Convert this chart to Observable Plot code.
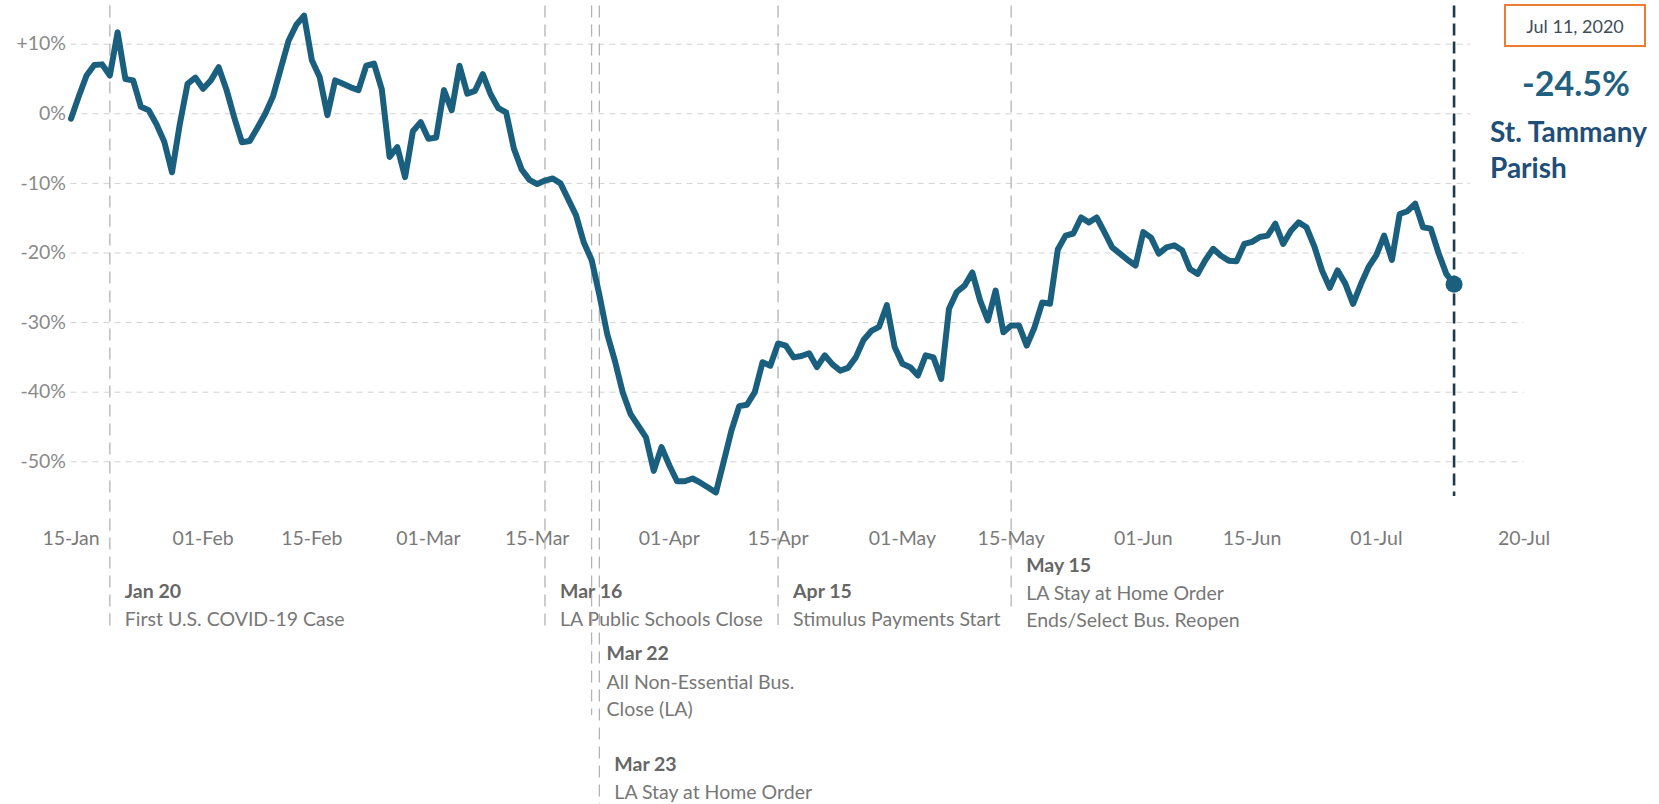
<!DOCTYPE html>
<html><head><meta charset="utf-8">
<script src="https://cdn.jsdelivr.net/npm/d3@7"></script>
<script src="https://cdn.jsdelivr.net/npm/@observablehq/plot@0.6"></script>
<style>
html,body{margin:0;padding:0;background:#fff;}
#wrap{position:relative;width:1659px;height:804px;font-family:Lato, "Noto Sans", sans-serif;overflow:hidden;}
#panel{position:absolute;left:1470px;top:0;width:189px;height:238px;background:#fff;}
#datebox{position:absolute;left:34px;top:4px;width:142px;height:43px;box-sizing:border-box;border:2px solid #ED7D31;display:flex;align-items:center;justify-content:center;font-size:18px;color:#3f4d5a;}
#val{position:absolute;left:28px;top:62px;width:156px;text-align:center;font-size:34px;line-height:42px;font-weight:bold;color:#21607e;}
#name{position:absolute;left:20px;top:113px;font-size:28px;line-height:36px;font-weight:bold;color:#1f4e79;}
</style></head><body>
<div id="wrap"><div id="chart"></div>
<div id="panel"><div id="datebox"></div><div id="val"></div><div id="name"></div></div>
</div>
<script>
// ---- data ----
const startDate = "2020-01-15";   // first daily value
const values = [
-0.7, 2.5, 5.5, 7.0, 7.1, 5.5, 11.7, 5.0, 4.8, 1.0,
0.5, -1.5, -4.0, -8.4, -1.5, 4.3, 5.2, 3.6, 4.8, 6.7,
3.5, -0.5, -4.1, -3.9, -2.0, 0.0, 2.5, 6.5, 10.5, 12.8,
14.1, 7.7, 5.3, -0.2, 4.8, 4.3, 3.8, 3.4, 6.9, 7.2,
3.5, -6.2, -4.8, -9.1, -2.5, -1.2, -3.6, -3.4, 3.4, 0.5,
6.9, 2.9, 3.3, 5.7, 2.8, 0.8, 0.2, -5.0, -8.0, -9.5,
-10.1, -9.6, -9.3, -10.0, -12.3, -14.6, -18.5, -21.0, -26.0, -31.6,
-35.5, -40.0, -43.1, -44.8, -46.5, -51.3, -47.9, -50.5, -52.8, -52.8,
-52.4, -53.0, -53.7, -54.4, -50.0, -45.5, -42.0, -41.8, -40.0, -35.7,
-36.2, -33.0, -33.3, -35.0, -34.8, -34.4, -36.4, -34.7, -36.0, -36.9,
-36.5, -35.0, -32.5, -31.2, -30.6, -27.5, -33.5, -35.9, -36.4, -37.6,
-34.7, -35.0, -38.1, -28.0, -25.6, -24.7, -22.8, -26.8, -29.7, -25.4,
-31.4, -30.4, -30.4, -33.3, -30.7, -27.1, -27.3, -19.5, -17.5, -17.2,
-14.9, -15.6, -14.9, -17.0, -19.2, -20.1, -21.0, -21.8, -17.0, -17.8,
-20.1, -19.2, -18.9, -19.6, -22.3, -23.0, -21.0, -19.4, -20.4, -21.1,
-21.2, -18.7, -18.4, -17.7, -17.5, -15.8, -18.7, -16.8, -15.6, -16.3,
-19.0, -22.5, -25.0, -22.5, -24.4, -27.3, -24.5, -22.0, -20.3, -17.5,
-21.0, -14.4, -14.0, -12.9, -16.3, -16.5, -20.0, -23.0, -24.5
];
const eventDates  = ["2020-01-20","2020-03-16","2020-03-22","2020-03-23","2020-04-15","2020-05-15"];
const eventLabels = ["Jan 20","Mar 16","Mar 22","Mar 23","Apr 15","May 15"];
const eventNotes  = ["First U.S. COVID-19 Case","LA Public Schools Close","All Non-Essential Bus.\nClose (LA)","LA Stay at Home Order","Stimulus Payments Start","LA Stay at Home Order\nEnds/Select Bus. Reopen"];
const xTickDates  = ["2020-01-15","2020-02-01","2020-02-15","2020-03-01","2020-03-15","2020-04-01","2020-04-15","2020-05-01","2020-05-15","2020-06-01","2020-06-15","2020-07-01","2020-07-20"];
const yTicks      = [-50,-40,-30,-20,-10,0,10];
const xDomain     = ["2020-01-15","2020-07-20"];
const yDomain     = [-55, 15.5];
const placeName   = "St. Tammany Parish";

// ---- layout (styling only) ----
const labelDy = [95, 95, 157, 268, 95, 69];       // bold date label offset below frame
const noteDy  = [121, 121, 197.5, 294, 121, 108]; // note block center offset below frame
const ruleExt = [131, 131, 219, 310, 129, 114];   // how far each event rule runs below frame

const parse = s => new Date(s + "T00:00:00Z");
const series = values.map((v, i) => ({date: d3.utcDay.offset(parse(startDate), i), value: v}));
const last = series[series.length - 1];
const events = eventDates.map((d, i) => ({date: parse(d), label: eventLabels[i], note: eventNotes[i]}));
const lineColor = "#1b5f7f";

const marks = [
  Plot.gridY(yTicks, {stroke: "#d2d2d2", strokeOpacity: 1, strokeDasharray: "6,5"}),
  Plot.axisY(yTicks, {tickSize: 0, tickPadding: 5, fontSize: 19.5, fill: "#8a8a8a", label: null,
    tickFormat: v => v > 0 ? `+${v}%` : `${v}%`}),
  Plot.axisX(xTickDates.map(parse), {tickSize: 0, tickPadding: 35, fontSize: 19.5, fill: "#7a7a7a", label: null,
    tickFormat: d3.utcFormat("%d-%b")})
];
events.forEach((e, i) => {
  marks.push(Plot.ruleX([e], {x: "date", stroke: "#b3b3b3", strokeWidth: 1.3, strokeDasharray: "12,7", insetBottom: -ruleExt[i]}));
  marks.push(Plot.text([e], {x: "date", text: "label", frameAnchor: "bottom", textAnchor: "start", lineAnchor: "middle",
    dx: 15, dy: labelDy[i], fontWeight: "bold", fontSize: 19.5, fill: "#666"}));
  marks.push(Plot.text([e], {x: "date", text: "note", frameAnchor: "bottom", textAnchor: "start", lineAnchor: "middle",
    dx: 15, dy: noteDy[i], fontSize: 19.5, lineHeight: 1.4, fill: "#777"}));
});
marks.push(Plot.ruleX([last], {x: "date", stroke: "#1c3b4e", strokeWidth: 2.6, strokeDasharray: "12,6"}));
marks.push(Plot.line(series, {x: "date", y: "value", stroke: lineColor, strokeWidth: 6, strokeLinejoin: "round", strokeLinecap: "round"}));
marks.push(Plot.dot([last], {x: "date", y: "value", r: 8.5, fill: lineColor, stroke: "none"}));

const chart = Plot.plot({
  width: 1659, height: 804,
  marginTop: 5.4, marginBottom: 307.9, marginLeft: 70.5, marginRight: 135.5,
  style: {fontFamily: "Lato, 'Noto Sans', sans-serif", fontSize: "18px", background: "#fff", overflow: "visible"},
  x: {type: "utc", domain: xDomain.map(parse)},
  y: {domain: yDomain},
  marks
});
document.getElementById("chart").appendChild(chart);

const fmtDate = d3.utcFormat("%b %-d, %Y");
document.getElementById("datebox").textContent = fmtDate(last.date);
document.getElementById("val").textContent = `${last.value.toFixed(1)}%`;
document.getElementById("name").innerHTML = placeName.replace(" Parish", "<br>Parish");
</script>
</body></html>
